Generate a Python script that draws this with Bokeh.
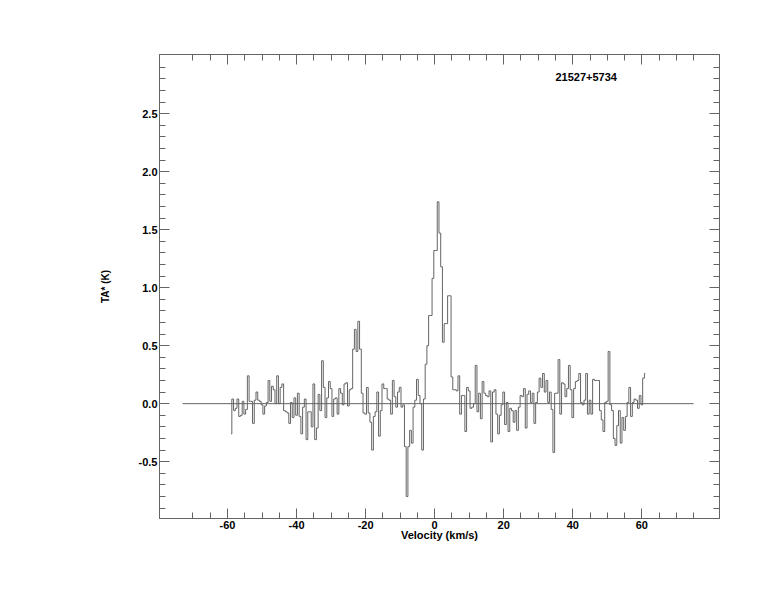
from bokeh.plotting import figure
from bokeh.models import Range1d, LinearAxis, FixedTicker, PrintfTickFormatter, Label
from bokeh.embed import file_html
from bokeh.resources import INLINE

# ---- data ----
V0 = -59.0      # first channel velocity (km/s)
DV = 0.5        # channel width (km/s)

ta_seg1 = [-0.26, 0.04, -0.06, -0.04, 0.04, -0.11, -0.10, 0.02, -0.09, -0.05,
           0.24, 0.02, 0.02, -0.17, 0.03, 0.10, 0.03, 0.02, -0.01, -0.09,
           -0.02, 0.01, 0.20, 0.02, 0.15, 0.12, 0.00, 0.24, 0.00, 0.14,
           0.17, -0.06, -0.07, -0.08, -0.17, 0.01, -0.12, 0.05, -0.10, 0.09,
           -0.11, -0.26, -0.03, 0.04, -0.31, -0.07, -0.07, -0.20, 0.17, -0.31,
           -0.21, 0.08, -0.06, 0.37, 0.14, -0.12, 0.05, 0.19, 0.13]
ta_seg2 = [-0.11, 0.04, 0.05, -0.09, 0.13, 0.09, -0.01, 0.17, 0.18, -0.02,
           0.12, 0.13, 0.47, 0.64, 0.45, 0.71, 0.47, 0.09, -0.08, -0.09,
           0.14, -0.08, -0.16, -0.40, -0.11, -0.07, 0.10, -0.28, -0.06, 0.17,
           0.13, 0.13, 0.04, 0.03, -0.09, 0.20, 0.06, -0.03, 0.10, 0.14,
           -0.03, -0.01, -0.37, -0.80, -0.37, -0.23, -0.34, -0.03, 0.03, 0.21,
           0.07, 0.00, -0.40, 0.04]
ta_peak = [0.34, 0.50, 0.76, 0.76, 1.08, 1.32, 1.32, 1.74, 1.47, 1.18,
           0.53, 0.69, 0.69, 0.93, 0.93, 0.23]
ta_seg3 = [0.12, 0.12, 0.11, 0.24, -0.09, 0.07, 0.07, -0.24, 0.14, 0.11,
           -0.04, -0.03, 0.00, 0.33, -0.07, 0.09, -0.13, 0.19, 0.09, 0.07,
           0.06, 0.11, -0.33, 0.10, 0.12, -0.09, -0.26, -0.10, -0.01, 0.10,
           -0.18, 0.01, -0.24, -0.04, -0.06, -0.16, -0.06, -0.23, -0.03, 0.07,
           0.06, 0.13, -0.21, 0.08, 0.11, 0.01, 0.09, -0.17, 0.01, 0.10,
           0.22, 0.14, 0.26, 0.10]
ta_seg4 = [0.20, 0.01, 0.10, -0.05, -0.42, 0.09, 0.09, 0.38, -0.09, 0.18,
           0.17, 0.06, 0.13, 0.33, 0.12, -0.12, 0.13, 0.19, 0.20, 0.26,
           0.01, -0.01, 0.03, 0.26, -0.09, 0.03, -0.09, 0.21, 0.20, 0.20,
           0.20, -0.06, -0.14, -0.24, 0.01, 0.02, 0.45, -0.01, -0.06, -0.30,
           -0.36, -0.19, -0.06, -0.34, -0.12, -0.23, -0.11, 0.01, 0.14, -0.11,
           0.01, 0.04, 0.03, -0.04, 0.07, -0.01, 0.22, 0.26]

ta = ta_seg1 + ta_seg2 + ta_peak + ta_seg3 + ta_seg4
vel = [V0 + DV * i for i in range(len(ta))]

base_v = [-73.0, 75.0]
base_t = [0.0, 0.0]

x_major = [-60, -40, -20, 0, 20, 40, 60]
x_minor = [-70, -65, -55, -50, -45, -35, -30, -25, -15, -10, -5, 5, 10, 15,
           25, 30, 35, 45, 50, 55, 65, 70, 75]
y_major = [-0.5, 0.0, 0.5, 1.0, 1.5, 2.0, 2.5]
y_minor = [-0.9, -0.8, -0.7, -0.6, -0.4, -0.3, -0.2, -0.1, 0.1, 0.2, 0.3, 0.4,
           0.6, 0.7, 0.8, 0.9, 1.1, 1.2, 1.3, 1.4, 1.6, 1.7, 1.8, 1.9,
           2.1, 2.2, 2.3, 2.4, 2.6, 2.7, 2.8, 2.9]

source_name = "21527+5734"
x_title = "Velocity (km/s)"
y_title = "TA* (K)"

# ---- styling ----
LC = "#646464"
FONT = "Liberation Sans"

p = figure(width=758, height=596,
           x_range=Range1d(-79.7, 82.5), y_range=Range1d(-0.99, 3.01),
           output_backend="svg", toolbar_location=None,
           x_axis_location=None, y_axis_location=None,
           min_border_left=159, min_border_right=39,
           min_border_top=54, min_border_bottom=78)
p.xgrid.visible = False
p.ygrid.visible = False
p.outline_line_color = LC
p.outline_line_width = 1
p.background_fill_color = "white"
p.border_fill_color = "white"


def make_axis(major, minor, fmt, show_labels):
    ax = LinearAxis(ticker=FixedTicker(ticks=major, minor_ticks=minor),
                    formatter=PrintfTickFormatter(format=fmt))
    ax.axis_line_color = LC
    ax.major_tick_line_color = LC
    ax.minor_tick_line_color = LC
    ax.major_tick_in = 10
    ax.major_tick_out = 0
    ax.minor_tick_in = 6
    ax.minor_tick_out = 0
    ax.major_label_text_font = FONT
    ax.major_label_text_font_style = "bold"
    ax.major_label_text_font_size = "11px"
    ax.major_label_text_color = "black"
    ax.major_label_standoff = 2
    if not show_labels:
        ax.major_label_overrides = {t: "" for t in major}
        ax.major_label_standoff = 0
    return ax


xb = make_axis(x_major, x_minor, "%d", True)
xb.axis_label = x_title
xb.axis_label_text_font = FONT
xb.axis_label_text_font_style = "bold"
xb.axis_label_text_font_size = "11px"
xb.axis_label_text_color = "black"
xb.axis_label_standoff = -3
p.add_layout(xb, "below")

xt = make_axis(x_major, x_minor, "%d", False)
p.add_layout(xt, "above")

yl = make_axis(y_major, y_minor, "%.1f", True)
yl.axis_label = y_title
yl.axis_label_text_font = FONT
yl.axis_label_text_font_style = "bold"
yl.axis_label_text_font_size = "10px"
yl.axis_label_text_color = "black"
yl.axis_label_standoff = 25
p.add_layout(yl, "left")

yr = make_axis(y_major, y_minor, "%.1f", False)
p.add_layout(yr, "right")

p.line(base_v, base_t, line_color=LC, line_width=1)
p.step(vel, ta, mode="center", line_color=LC, line_width=1)

p.add_layout(Label(x=43.9, y=2.82, text=source_name, text_align="center",
                   text_baseline="middle", text_font=FONT,
                   text_font_style="bold", text_font_size="11px",
                   text_color="black"))

open("out.html", "w").write(file_html(p, INLINE))
